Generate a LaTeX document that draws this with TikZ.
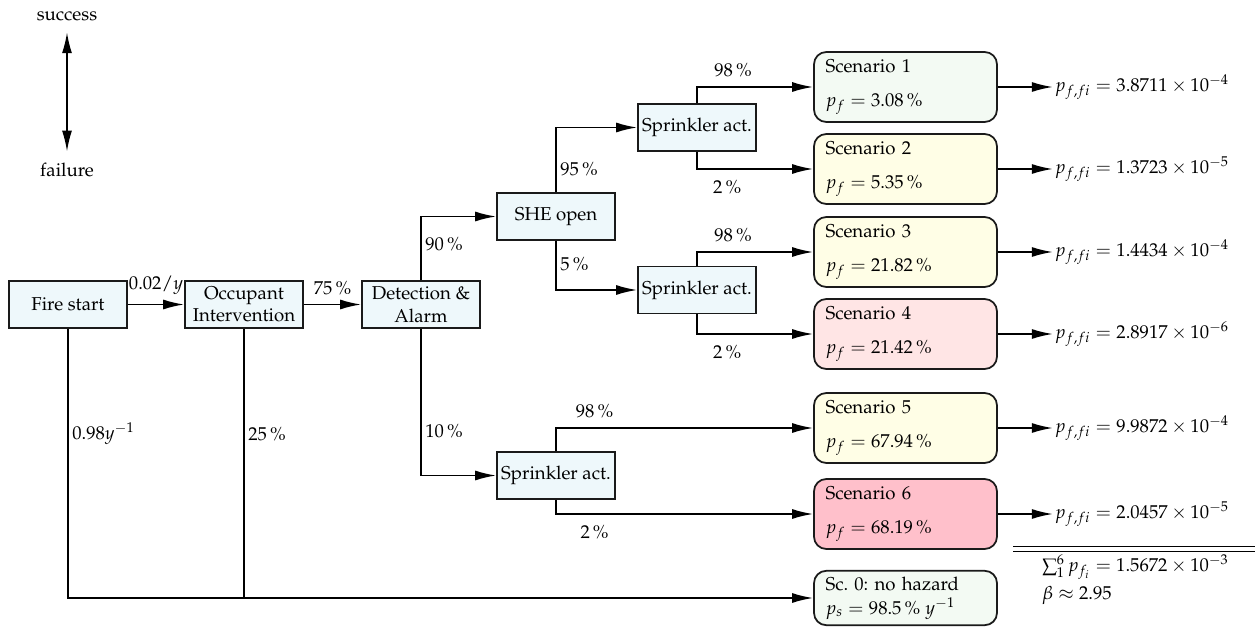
\documentclass[tikz,border=0pt]{standalone}
\usepackage[T1]{fontenc}
\usepackage{mathpazo}
\usetikzlibrary{arrows.meta}

\begin{document}
\begin{tikzpicture}[x=0.02cm, y=-0.02cm,
    every node/.style={font=\fontsize{10.6pt}{12.7pt}\selectfont},
    proc/.style={draw=borderColour, line width=1pt, fill=procColour, minimum width=2.36cm, minimum height=0.94cm, align=center, inner sep=2pt},
    scen/.style={draw=borderColour, line width=1pt, rounded corners=7pt, text width=3.2cm, inner xsep=0.23cm, minimum height=1.4cm, align=left},
    arr/.style={line width=1pt, -{Latex[length=4.2mm,width=2mm]}},
    line/.style={line width=1pt},
    lbl/.style={inner sep=2pt},
    res/.style={anchor=west, inner sep=1pt}]

    \definecolor{borderColour}{HTML}{1A1A1A}
    \definecolor{procColour}{HTML}{EEF8FB}
    \definecolor{scGreen}{HTML}{F3FAF3}
    \definecolor{scYellow}{HTML}{FFFEE6}
    \definecolor{scRose}{HTML}{FFE5E5}
    \definecolor{scPink}{HTML}{FFC0CB}

    % Fix the picture size
    \useasboundingbox (0,0) rectangle (1255,628);

    % Legend
    \node (succ) at (67,16) {success};
    \node (fail) at (67,170) {failure};
    \draw[line width=1pt, {Latex[length=4.2mm,width=2mm]}-{Latex[length=4.2mm,width=2mm]}, shorten <=3pt, shorten >=3pt] (succ) -- (fail);

    % Event boxes
    \node[proc] (fire) at (68,304.5) {Fire start};
    \node[proc] (occ) at (244,304.5) {Occupant\\Intervention};
    \node[proc] (det) at (421,304.5) {Detection \&\\Alarm};
    \node[proc] (she) at (556,216.5) {SHE open};
    \node[proc] (spr1) at (697,127.5) {Sprinkler act.};
    \node[proc] (spr2) at (697,290) {Sprinkler act.};
    \node[proc] (spr3) at (556,475.5) {Sprinkler act.};

    % Scenario boxes
    \foreach \i/\y/\col/\pf in {1/87/scGreen/3.08, 2/169/scYellow/5.35, 3/252/scYellow/21.82,
                                4/334/scRose/21.42, 5/428/scYellow/67.94, 6/514/scPink/68.19}
        \node[scen, fill=\col] (sc\i) at (905.5,\y) {Scenario \i\\[7pt]$p_f = \pf\,\%$};
    \node[scen, fill=scGreen, minimum height=0.98cm] (sc0) at (905.5,598) {Sc.\ 0:\ no hazard\\[1pt]$p_s = 98.5\,\%\;y^{-1}$};

    % Main chain
    \draw[arr] (fire) -- node[lbl, above=3pt] (l002) {$0.02/y$} (occ);
    \draw[arr] (occ) -- node[lbl, above=3pt] (l75) {75\,\%} (det);
    \draw[arr] (fire.south) |- node[lbl, right, pos=0.195] (l098) {$0.98y^{-1}$} (sc0.west);
    \draw[line] (occ.south) -- node[lbl, right, pos=0.39] (l25) {25\,\%} (occ.south |- sc0.west);

    % Detection branches
    \draw[arr] (det.north) |- node[lbl, right, pos=0.28] (l90) {90\,\%} (she.west);
    \draw[arr] (det.south) |- node[lbl, right, pos=0.35] (l10) {10\,\%} (spr3.west);

    % SHE branches
    \draw[arr] (she.north) |- node[lbl, right, pos=0.175] (l95) {95\,\%} (spr1.west);
    \draw[arr] (she.south) |- node[lbl, right, pos=0.24] (l5) {5\,\%} (spr2.west);

    % Sprinkler branches
    \draw[arr] (spr1.north) |- node[lbl, above=3pt, pos=0.655] (l98a) {98\,\%} (sc1.west);
    \draw[arr] (spr1.south) |- node[lbl, below=4pt, pos=0.63] (l2a) {2\,\%} (sc2.west);
    \draw[arr] (spr2.north) |- node[lbl, above=3pt, pos=0.655] (l98b) {98\,\%} (sc3.west);
    \draw[arr] (spr2.south) |- node[lbl, below=4pt, pos=0.63] (l2b) {2\,\%} (sc4.west);
    \draw[arr] (spr3.north) |- node[lbl, above=3pt, pos=0.575] (l98c) {98\,\%} (sc5.west);
    \draw[arr] (spr3.south) |- node[lbl, below=4pt, pos=0.575] (l2c) {2\,\%} (sc6.west);

    % Failure probabilities
    \foreach \i/\m/\e in {1/3.8711/-4, 2/1.3723/-5, 3/1.4434/-4, 4/2.8917/-6, 5/9.9872/-4, 6/2.0457/-5} {
        \node[res] (r\i) at ([xshift=1.1cm]sc\i.east) {$p_{f,fi} = \m\times10^{\e}$};
        \draw[arr] (sc\i.east) -- (r\i.west);
    }

    % Sum
    \coordinate (ruleL) at (1013,549);
    \coordinate (ruleR) at (1255,549);
    \draw[line width=0.6pt, double, double distance=2pt] (ruleL) -- (ruleR);
    \node[anchor=west, inner sep=1pt] (sum) at (1040,567) {$\textstyle\sum\nolimits_{1}^{6} p_{f_i} = 1.5672\times10^{-3}$};
    \node[anchor=west, inner sep=1pt] (beta) at (1040,595) {$\beta\approx2.95$};

\end{tikzpicture}
\end{document}
